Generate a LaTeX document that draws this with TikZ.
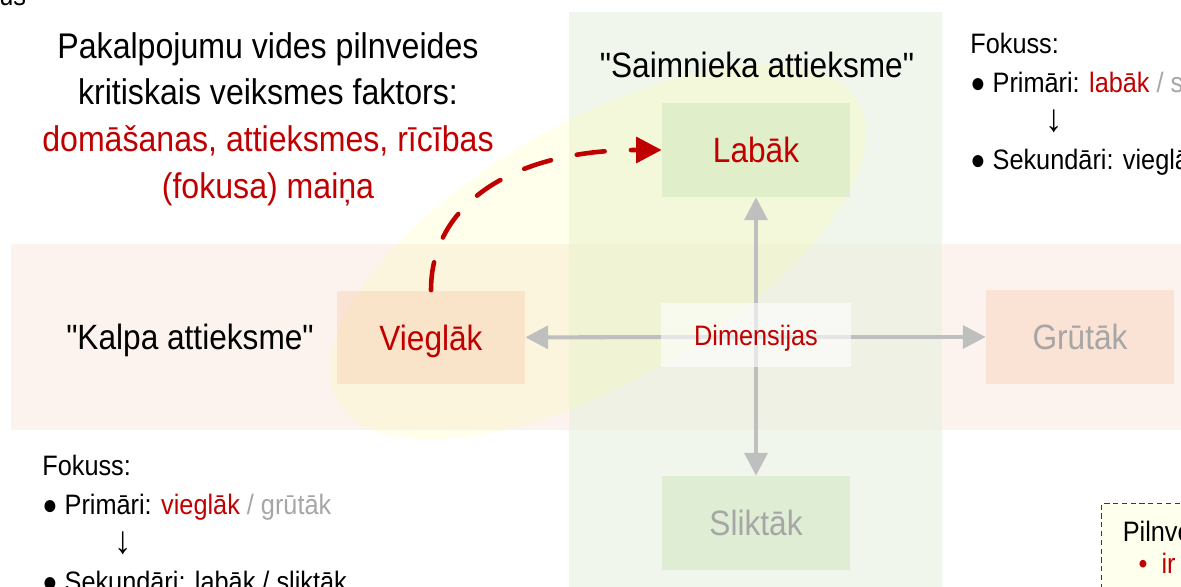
\documentclass[tikz,border=0pt]{standalone}
\usepackage{fontspec}
\setmainfont{Liberation Sans}[FakeStretch=0.9, Ligatures=TeXOff]
\usepackage{tikz}
\usetikzlibrary{arrows.meta}

\definecolor{darkred}{HTML}{C00000}
\definecolor{txtgray}{HTML}{A6A6A6}
\definecolor{arrgray}{HTML}{BFBFBF}
\definecolor{bandgreen}{HTML}{E6F0DE}
\definecolor{bandorange}{HTML}{FCF3EE}
\definecolor{boxgreen}{HTML}{C5E0B4}
\definecolor{boxorange}{HTML}{F8CBAD}
\definecolor{hiyellow}{HTML}{FFFF99}
\definecolor{notefill}{HTML}{FFFFEE}

\newcommand{\downstep}[1]{\hspace*{#1}{\fontsize{22}{22}\selectfont ↓}}

\tikzstyle{greenbox} = [rectangle, minimum width=3.76cm, minimum height=1.88cm, fill=boxgreen, fill opacity=0.4, text opacity=1, text centered, font=\fontsize{20}{24}\selectfont, text height=14.3pt, text depth=0pt]
\tikzstyle{orangebox} = [greenbox, fill=boxorange]
\tikzstyle{dimbox} = [rectangle, minimum width=3.82cm, minimum height=1.3cm, fill=white, fill opacity=0.6, text opacity=1, text=darkred, font=\fontsize{16}{20}\selectfont, text height=11.5pt, text depth=0pt]
\tikzstyle{dimarrow} = [line width=2.3pt, draw=arrgray, -{Triangle[length=13pt, width=13pt]}]
\tikzstyle{changearrow} = [line width=2.6pt, draw=darkred, line cap=round, dash pattern=on 16pt off 15pt, -{Triangle[length=14.5pt, width=14.5pt]}]
\tikzstyle{caption} = [anchor=base, font=\fontsize{20}{24}\selectfont]
\tikzstyle{focus} = [anchor=north west, inner sep=0pt, align=left, font=\fontsize{16}{22}\selectfont]

\begin{document}
\begin{tikzpicture}[x=0.02cm, y=-0.02cm]
	\useasboundingbox (0,0) rectangle (1181,587);
	\clip (0,0) rectangle (1181,587);

	% background bands and highlight
	\fill [bandorange] (11,244) rectangle (1200,430);
	\fill [bandgreen, fill opacity=0.6] (569,12) rectangle (942,600);
	\fill [hiyellow, fill opacity=0.2, rotate around={30:(598,252)}] (598,252) ellipse [x radius=300, y radius=130];

	\node (labak) [greenbox, text=darkred] at (756,150) {Labāk};
	\node (sliktak) [greenbox, text=txtgray] at (756,523) {Sliktāk};
	\node (vieglak) [orangebox, text=darkred] at (431,337.5) {Vieglāk};
	\node (grutak) [orangebox, text=txtgray] at (1080,337) {Grūtāk};

	\coordinate (hub) at (756,337);
	\draw [dimarrow] (hub) -- (labak);
	\draw [dimarrow] (hub) -- (sliktak);
	\draw [dimarrow] (hub) -- (vieglak);
	\draw [dimarrow] (hub) -- (grutak);
	\node (dim) [dimbox] at (756,335) {Dimensijas};

	\draw [changearrow] (vieglak.north) .. controls +(0,-85) and +(-150,0) .. (labak.west);

	% texts
	\node (title) [anchor=north, inner sep=0pt, align=center, font=\fontsize{20.3}{26.6}\selectfont] at (268,32) {Pakalpojumu vides pilnveides\\kritiskais veiksmes faktors:\\\textcolor{darkred}{domāšanas, attieksmes, rīcības}\\\textcolor{darkred}{(fokusa) maiņa}};
	\node (owner) [caption] at (757,78) {"Saimnieka attieksme"};
	\node (vassal) [caption] at (190,350) {"Kalpa attieksme"};

	\node (cutoff) [anchor=base west, inner sep=0pt, font=\fontsize{16}{20}\selectfont] at (-1,6) {us};
	\node (focusright) [focus] at (970,33) {Fokuss:\\● Primāri: \textcolor{darkred}{labāk} \textcolor{txtgray}{/ sliktāk}\\\downstep{43pt}\\● Sekundāri: vieglāk / grūtāk};
	\node (focusleft) [focus] at (42,455) {Fokuss:\\● Primāri: \textcolor{darkred}{vieglāk} \textcolor{txtgray}{/ grūtāk}\\\downstep{41pt}\\● Sekundāri: labāk / sliktāk};

	\node (note) [anchor=north west, draw=darkred, line width=0.8pt, dash pattern=on 3pt off 2pt, fill=notefill, inner xsep=12pt, inner ysep=10pt, align=left, font=\fontsize{16}{18}\selectfont] at (1101,503) {Pilnveide\\\hspace*{9pt}\textcolor{darkred}{•\hspace{8pt}ir}};
\end{tikzpicture}
\end{document}
